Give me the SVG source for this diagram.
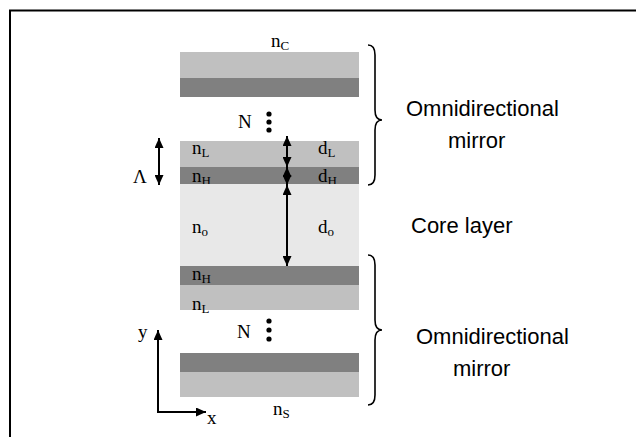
<svg xmlns="http://www.w3.org/2000/svg" width="636" height="437" viewBox="0 0 636 437">
  <style>
    .lo { fill: #c0c0c0; }
    .hi { fill: #808080; }
    .core { fill: #e8e8e8; }
    .sym { font-family: "Liberation Serif", serif; font-size: 19px; fill: #000; }
    .sub { font-size: 13px; }
    .lbl { font-family: "Liberation Sans", sans-serif; font-size: 22px; fill: #000; }
    .ln { stroke: #000; stroke-width: 2; fill: none; }
    .brace { stroke: #000; stroke-width: 1.6; fill: none; }
  </style>
  <defs>
    <marker id="head" viewBox="0 0 10 10" refX="10" refY="5" markerWidth="5" markerHeight="4.5" orient="auto-start-reverse" markerUnits="strokeWidth" preserveAspectRatio="none">
      <path d="M0,0 L10,5 L0,10 Z" fill="#000"/>
    </marker>
  </defs>

  <!-- frame -->
  <rect x="10" y="10.5" width="700" height="500" fill="none" stroke="#000" stroke-width="2"/>

  <!-- upper mirror -->
  <g id="upper-mirror">
    <rect class="lo" x="180" y="52" width="179" height="26"/>
    <rect class="hi" x="180" y="78" width="179" height="19"/>
    <rect class="lo" x="180" y="141" width="179" height="26"/>
    <rect class="hi" x="180" y="167" width="179" height="17"/>
    <text class="sym" x="271" y="47">n<tspan class="sub" dy="3">C</tspan></text>
    <text class="sym" x="238" y="128">N</text>
    <circle cx="269" cy="114" r="2.6"/>
    <circle cx="269" cy="122" r="2.6"/>
    <circle cx="269" cy="130" r="2.6"/>
    <text class="sym" x="192" y="154">n<tspan class="sub" dy="3">L</tspan></text>
    <text class="sym" x="318" y="154">d<tspan class="sub" dy="3">L</tspan></text>
    <text class="sym" x="192" y="182">n<tspan class="sub" dy="3">H</tspan></text>
    <text class="sym" x="318" y="182">d<tspan class="sub" dy="3">H</tspan></text>
  </g>

  <!-- core -->
  <g id="core">
    <rect class="core" x="180" y="184" width="179" height="82"/>
    <text class="sym" x="192" y="233">n<tspan class="sub" dy="3">o</tspan></text>
    <text class="sym" x="318" y="233">d<tspan class="sub" dy="3">o</tspan></text>
  </g>

  <!-- lower mirror -->
  <g id="lower-mirror">
    <rect class="hi" x="180" y="266" width="179" height="19"/>
    <rect class="lo" x="180" y="285" width="179" height="25"/>
    <rect class="hi" x="180" y="353" width="179" height="19"/>
    <rect class="lo" x="180" y="372" width="179" height="25"/>
    <text class="sym" x="192" y="280">n<tspan class="sub" dy="3">H</tspan></text>
    <text class="sym" x="192" y="310">n<tspan class="sub" dy="3">L</tspan></text>
    <text class="sym" x="237" y="338">N</text>
    <circle cx="269" cy="321" r="2.6"/>
    <circle cx="269" cy="330" r="2.6"/>
    <circle cx="269" cy="339" r="2.6"/>
    <text class="sym" x="273" y="415">n<tspan class="sub" dy="3">S</tspan></text>
  </g>

  <!-- period label -->
  <g id="period">
    <text class="sym" x="133" y="183">Λ</text>
  </g>

  <!-- side labels -->
  <g id="label-upper">
    <text class="lbl" x="406" y="116">Omnidirectional</text>
    <text class="lbl" x="448" y="148">mirror</text>
  </g>
  <g id="label-core">
    <text class="lbl" x="411" y="233">Core layer</text>
  </g>
  <g id="label-lower">
    <text class="lbl" x="416" y="344">Omnidirectional</text>
    <text class="lbl" x="453" y="376">mirror</text>
  </g>

  <!-- connectors: thickness arrows, braces, axes -->
  <g id="connectors">
    <line class="ln" x1="159" y1="138" x2="159" y2="185" marker-start="url(#head)" marker-end="url(#head)"/>
    <line class="ln" x1="287" y1="136" x2="287" y2="167" marker-start="url(#head)" marker-end="url(#head)"/>
    <line class="ln" x1="287" y1="167" x2="287" y2="185" marker-start="url(#head)" marker-end="url(#head)"/>
    <line class="ln" x1="287" y1="185" x2="287" y2="266" marker-start="url(#head)" marker-end="url(#head)"/>
    <path class="brace" d="M368,45 Q375,45 375,55 L375,110 Q375,120 382,120 Q375,120 375,130 L375,175 Q375,185 368,185"/>
    <path class="brace" d="M368,255 Q375,255 375,265 L375,320 Q375,330 382,330 Q375,330 375,340 L375,395 Q375,405 368,405"/>
    <polyline class="ln" points="158,330 158,412 206,412" marker-start="url(#head)" marker-end="url(#head)"/>
  </g>
  <g id="axis-labels">
    <text class="sym" x="138" y="338">y</text>
    <text class="sym" x="207" y="424">x</text>
  </g>
</svg>
